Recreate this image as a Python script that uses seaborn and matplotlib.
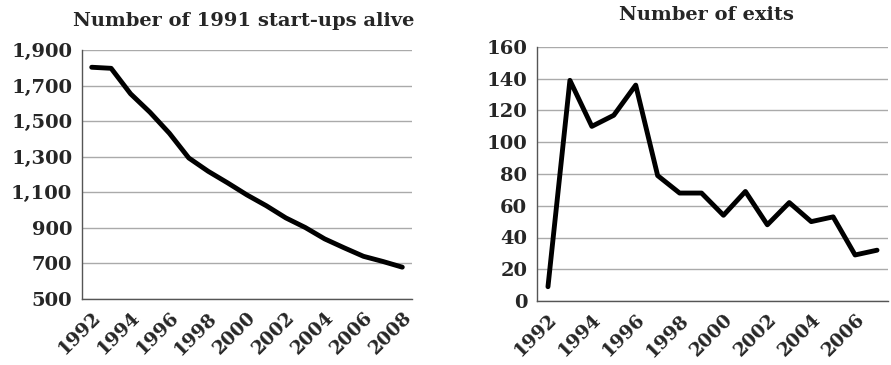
import numpy as np
import pandas as pd
import matplotlib
matplotlib.use('Agg')
import matplotlib.pyplot as plt
import seaborn as sns

# data
years_alive = list(range(1992, 2009))
alive = [1803, 1797, 1654, 1550, 1432, 1293, 1218, 1153, 1085, 1024, 956, 902, 838, 788, 740, 711, 679]

years_exit = list(range(1992, 2008))
exits = [9, 139, 110, 117, 136, 79, 68, 68, 54, 69, 48, 62, 50, 53, 29, 32]

alive_ticks = [500, 700, 900, 1100, 1300, 1500, 1700, 1900]
exit_ticks = [0, 20, 40, 60, 80, 100, 120, 140, 160]

sns.set_style('white')
plt.rcParams['font.family'] = ['DejaVu Serif']
plt.rcParams['font.weight'] = 'bold'

df_a = pd.DataFrame({'year': years_alive, 'n': alive})
df_e = pd.DataFrame({'year': years_exit, 'n': exits})

fig = plt.figure(figsize=(8.91, 3.65), dpi=100)
ax1 = fig.add_axes([82 / 891, 1 - 299 / 365, 330 / 891, 249 / 365])
ax2 = fig.add_axes([537 / 891, 1 - 301 / 365, 351 / 891, 254 / 365])


def style(ax, years, yticks, ylabels):
    ax.set_xlim(years[0] - 0.5, years[-1] + 0.5)
    ax.set_ylim(yticks[0], yticks[-1])
    ax.set_yticks(yticks)
    ax.set_yticklabels(ylabels, fontsize=14, fontweight='bold')
    lab = years[::2]
    ax.set_xticks(lab)
    ax.set_xticklabels([str(y) for y in lab], rotation=45, ha='right',
                       rotation_mode='anchor', fontsize=13.5, fontweight='bold')
    ax.set_xticks(np.arange(years[0] - 0.5, years[-1] + 1), minor=True)
    ax.tick_params(axis='x', which='major', length=0, pad=7)
    ax.tick_params(axis='x', which='minor', length=5, color='#555555', width=1)
    ax.tick_params(axis='y', length=5, color='#555555', width=1, pad=2)
    ax.grid(axis='y', color='#aaaaaa', lw=1)
    ax.grid(axis='x', visible=False)
    for s in ['top', 'right']:
        ax.spines[s].set_visible(False)
    for s in ['left', 'bottom']:
        ax.spines[s].set_color('#555555')
        ax.spines[s].set_linewidth(1)
    ax.set_xlabel('')
    ax.set_ylabel('')


sns.lineplot(data=df_a, x='year', y='n', ax=ax1, color='black', lw=3.5)
style(ax1, years_alive, alive_ticks, ['{:,}'.format(v) for v in alive_ticks])

sns.lineplot(data=df_e, x='year', y='n', ax=ax2, color='black', lw=3.5)
style(ax2, years_exit, exit_ticks, [str(v) for v in exit_ticks])

fig.text(244 / 891, 1 - 21 / 365, 'Number of 1991 start-ups alive', ha='center', va='center',
         fontsize=14, fontweight='bold')
fig.text(706 / 891, 1 - 15 / 365, 'Number of exits', ha='center', va='center',
         fontsize=14, fontweight='bold')

fig.savefig('out.png', dpi=100)
